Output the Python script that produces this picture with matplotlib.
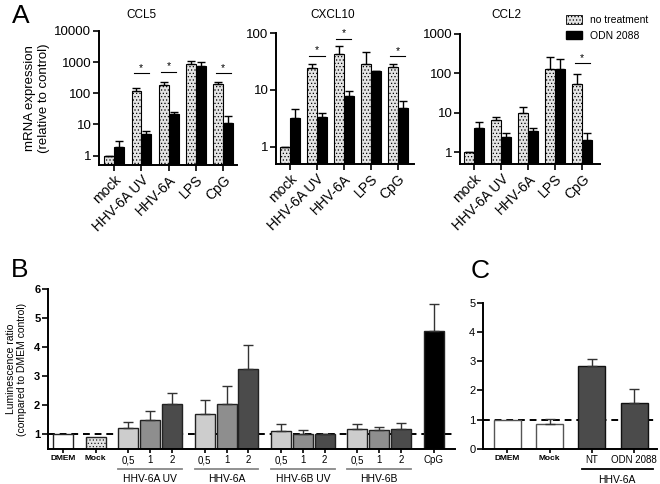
import matplotlib
matplotlib.use('Agg')
import matplotlib.pyplot as plt
from matplotlib.patches import Patch
import numpy as np

plt.rcParams['font.family'] = ['Liberation Sans', 'DejaVu Sans']
plt.rcParams['hatch.linewidth'] = 0.5

# ---- panel A data (mRNA expression, relative to control) ----
a_categories = ['mock', 'HHV-6A UV', 'HHV-6A', 'LPS', 'CpG']
genes = ['CCL5', 'CXCL10', 'CCL2']

ccl5_nt = [1.0, 119, 181, 880, 200]
ccl5_nt_sem = [0, 33, 57, 200, 38]
ccl5_odn = [1.95, 5.0, 21, 760, 11.3]
ccl5_odn_sem = [0.95, 1.4, 4, 220, 7.3]

cxcl10_nt = [1.0, 24.3, 42.8, 28.6, 25.3]
cxcl10_nt_sem = [0, 4.3, 17, 17, 3]
cxcl10_odn = [3.2, 3.3, 7.7, 21.8, 4.8]
cxcl10_odn_sem = [1.4, 0.65, 1.9, 0, 1.6]

ccl2_nt = [1.0, 6.5, 9.6, 129, 53.6]
ccl2_nt_sem = [0, 1.4, 4.1, 127, 42]
ccl2_odn = [4.0, 2.36, 3.42, 129, 2.02]
ccl2_odn_sem = [2.0, 0.74, 0.8, 107, 1.1]

# significance bars: category index and height
ccl5_sig = [1, 2, 4]
ccl5_sig_y = [450, 490, 450]
cxcl10_sig = [1, 2, 4]
cxcl10_sig_y = [40, 79, 39]
ccl2_sig = [4]
ccl2_sig_y = [180]

# ---- panel B data (luminescence ratio) ----
b_labels = ['DMEM', 'Mock', '0,5', '1', '2', '0,5', '1', '2',
            '0,5', '1', '2', '0,5', '1', '2', 'CpG']
b_values = [1.0, 0.92, 1.21, 1.51, 2.03, 1.70, 2.03, 3.24,
            1.11, 1.03, 1.01, 1.18, 1.15, 1.18, 4.57]
b_sem = [0, 0, 0.21, 0.29, 0.38, 0.49, 0.63, 0.82,
         0.26, 0.12, 0.02, 0.19, 0.12, 0.22, 0.92]
b_groups = ['HHV-6A UV', 'HHV-6A', 'HHV-6B UV', 'HHV-6B']

# ---- panel C data ----
c_labels = ['DMEM', 'Mock', 'NT', 'ODN 2088']
c_values = [1.0, 0.83, 2.83, 1.58]
c_sem = [0, 0.2, 0.24, 0.45]

stip_face = '#e4e4e4'
light, mid, dark = '#cdcdcd', '#8e8e8e', '#4b4b4b'

fig = plt.figure(figsize=(6.6, 4.84), dpi=100)


def px_axes(x0, x1, ytop, ybot):
    return fig.add_axes([x0 / 660, 1 - ybot / 484, (x1 - x0) / 660, (ybot - ytop) / 484])


def style(ax):
    for s in ['top', 'right']:
        ax.spines[s].set_visible(False)
    for s in ['left', 'bottom']:
        ax.spines[s].set_linewidth(1.4)
    ax.tick_params(direction='out', length=4, width=1.2, pad=1.5)


# ----------------- panel A -----------------
a_specs = [
    (99, 237, 31, 165, 10000, ccl5_nt, ccl5_nt_sem, ccl5_odn, ccl5_odn_sem, ccl5_sig, ccl5_sig_y, (-0.55, 4.5)),
    (276, 414, 33, 164, 100, cxcl10_nt, cxcl10_nt_sem, cxcl10_odn, cxcl10_odn_sem, cxcl10_sig, cxcl10_sig_y, (-0.52, 4.6)),
    (460, 600, 34, 164, 1000, ccl2_nt, ccl2_nt_sem, ccl2_odn, ccl2_odn_sem, ccl2_sig, ccl2_sig_y, (-0.52, 4.66)),
]
title_x = [141, 333, 506]
x = np.arange(len(a_categories))
w = 0.36
base = 0.5
for i, (x0, x1, yt, yb, ytop, nt, nts, odn, odns, sig, sigy, xl) in enumerate(a_specs):
    ax = px_axes(x0, x1, yt, yb)
    ax.set_yscale('log')
    nt_a = np.array(nt)
    odn_a = np.array(odn)
    ax.bar(x - w / 2, nt_a - base, w, bottom=base, color=stip_face, edgecolor='black',
           hatch='.....', linewidth=0.8, zorder=2)
    ax.bar(x + w / 2, odn_a - base, w, bottom=base, color='black', edgecolor='black',
           linewidth=0.8, zorder=2)
    ax.errorbar(x - w / 2, nt_a, yerr=[np.zeros(5), nts], fmt='none',
                ecolor='black', elinewidth=1, capsize=3, capthick=1, zorder=3)
    ax.errorbar(x + w / 2, odn_a, yerr=[np.zeros(5), odns], fmt='none',
                ecolor='black', elinewidth=1, capsize=3, capthick=1, zorder=3)
    for k, yy in zip(sig, sigy):
        ax.plot([k - 0.28, k + 0.28], [yy, yy], color='black', lw=0.8)
        ax.text(k, yy * 1.02, '*', ha='center', va='bottom', fontsize=7.5)
    ax.set_ylim(base, ytop)
    ax.set_xlim(*xl)
    ticks = [10 ** p for p in range(int(np.log10(ytop)) + 1)]
    ax.set_yticks(ticks)
    ax.set_yticklabels([str(t) for t in ticks], fontsize=9.5)
    ax.minorticks_off()
    ax.set_xticks(x)
    ax.set_xticklabels(a_categories, rotation=45, ha='right',
                       rotation_mode='anchor', fontsize=10)
    style(ax)
    fig.text(title_x[i] / 660, 1 - 15 / 484, genes[i], ha='center',
             va='center', fontsize=8.5)
    if i == 0:
        ax.set_ylabel('mRNA expression\n(relative to control)', fontsize=9.5,
                      labelpad=3)

fig.legend(handles=[Patch(facecolor=stip_face, edgecolor='black', hatch='.....', linewidth=0.6),
                    Patch(facecolor='black', edgecolor='black')],
           labels=['no treatment', 'ODN 2088'], loc='upper left',
           bbox_to_anchor=(566 / 660, 1 - 15 / 484), frameon=False,
           fontsize=7.5, handlelength=1.5, handleheight=0.9,
           handletextpad=0.8, labelspacing=0.55, borderaxespad=0, borderpad=0)

# ----------------- panel B -----------------
axb = px_axes(48, 455, 289, 449)
b_pos = np.array([0, 1.5, 3, 4, 5, 6.5, 7.5, 8.5, 10, 11, 12, 13.5, 14.5, 15.5, 17])
b_colors = ['white', stip_face] + [light, mid, dark] * 4 + ['black']
b_hatch = [None, '.....'] + [None] * 13
axb.axhline(1, color='black', ls=(0, (3.5, 2.5)), lw=1.4, zorder=1)
for p, v, c, h in zip(b_pos, b_values, b_colors, b_hatch):
    axb.bar(p, v - 0.5, 0.92, bottom=0.5, color=c, edgecolor='#222222',
            hatch=h, linewidth=1.0, zorder=2)
axb.errorbar(b_pos[2:], b_values[2:], yerr=[np.zeros(13), b_sem[2:]], fmt='none',
             ecolor='#333333', elinewidth=1, capsize=3.5, capthick=1, zorder=3)
axb.set_ylim(0.5, 6)
axb.set_xlim(-0.69, 17.98)
axb.set_yticks([1, 2, 3, 4, 5, 6])
axb.set_yticklabels(['1', '2', '3', '4', '5', '6'], fontsize=8, fontweight='bold')
axb.set_xticks(b_pos)
axb.set_xticklabels(b_labels, fontsize=7)
for lab in axb.get_xticklabels():
    if lab.get_text() in ('DMEM', 'Mock'):
        lab.set_fontweight('bold')
        lab.set_fontsize(6)
style(axb)
axb.tick_params(axis='x', length=3)
axb.set_ylabel('Luminescence ratio\n(compared to DMEM control)', fontsize=7.5,
               labelpad=5)
trb = axb.get_xaxis_transform()
for g, name in enumerate(b_groups):
    left = b_pos[2 + 3 * g] - 0.46
    right = b_pos[4 + 3 * g] + 0.46
    axb.plot([left, right], [-0.125, -0.125], color='#888888', lw=1.3,
             transform=trb, clip_on=False)
    axb.text((left + right) / 2, -0.185, name, transform=trb, ha='center',
             va='center', fontsize=7.5)

# ----------------- panel C -----------------
axc = px_axes(483, 657, 302.7, 448.7)
c_pos = np.arange(len(c_labels))
c_colors = ['white', 'white', dark, dark]
c_edges = ['#555555', '#555555', '#111111', '#111111']
axc.axhline(1, color='black', ls=(0, (3.5, 2.5)), lw=1.4, zorder=1)
axc.bar(c_pos, c_values, 0.64, color=c_colors, edgecolor=c_edges,
        linewidth=1.0, zorder=2)
axc.errorbar(c_pos[1:], c_values[1:], yerr=[np.zeros(3), c_sem[1:]], fmt='none',
             ecolor='#333333', elinewidth=1, capsize=3.5, capthick=1, zorder=3)
axc.set_ylim(0, 5)
axc.set_xlim(-0.58, 3.54)
axc.set_yticks(range(6))
axc.set_yticklabels([str(i) for i in range(6)], fontsize=8)
axc.set_xticks(c_pos)
axc.set_xticklabels(c_labels, fontsize=7)
for lab in axc.get_xticklabels()[:2]:
    lab.set_fontweight('bold')
    lab.set_fontsize(6)
style(axc)
axc.tick_params(axis='x', length=3)
trc = axc.get_xaxis_transform()
axc.plot([1.77, 3.45], [-0.14, -0.14], color='black', lw=1.3, transform=trc,
         clip_on=False)
axc.text(2.6, -0.215, 'HHV-6A', transform=trc, ha='center', va='center',
         fontsize=7.5)

# panel letters
fig.text(12 / 660, 1 - 23 / 484, 'A', fontsize=19, va='baseline')
fig.text(11 / 660, 1 - 277 / 484, 'B', fontsize=19, va='baseline')
fig.text(471 / 660, 1 - 278 / 484, 'C', fontsize=19, va='baseline')

fig.savefig('out.png', dpi=100)
